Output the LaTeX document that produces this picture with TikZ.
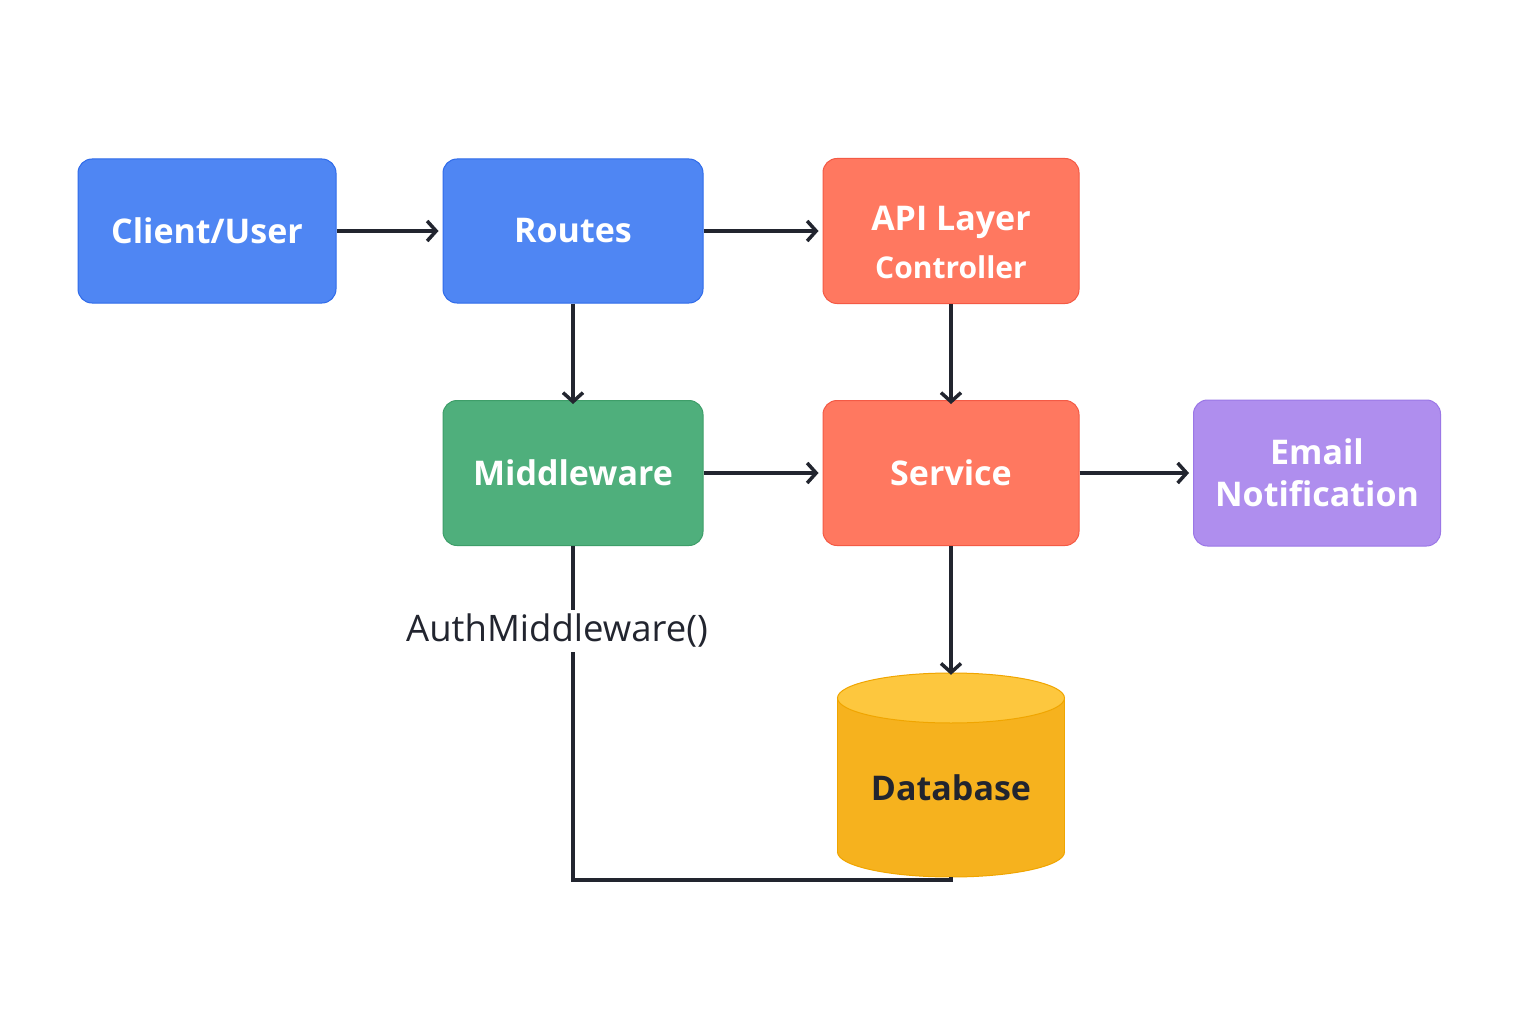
\documentclass[tikz,border=0pt]{standalone}
\usepackage{fontspec}
\setmainfont{Open Sans}
\usetikzlibrary{arrows.meta}
\definecolor{bluef}{HTML}{4F86F3}
\definecolor{blued}{HTML}{2F6BEA}
\definecolor{redf}{HTML}{FF7860}
\definecolor{redd}{HTML}{F45A45}
\definecolor{greenf}{HTML}{4FAF7C}
\definecolor{greend}{HTML}{3E9E69}
\definecolor{purpf}{HTML}{AF8EEE}
\definecolor{purpd}{HTML}{9B77E6}
\definecolor{dbf}{HTML}{F6B21E}
\definecolor{dbtop}{HTML}{FDC73E}
\definecolor{dbd}{HTML}{F0A500}
\definecolor{ink}{HTML}{22252F}
\tikzset{
  box/.style={rounded corners=14pt, line width=1pt, text=white, align=center,
    font=\bfseries\fontsize{34}{42}\selectfont, inner sep=0pt},
  bluebox/.style={box, fill=bluef, draw=blued, minimum width=258pt, minimum height=144pt},
  redbox/.style={box, fill=redf, draw=redd, minimum width=256pt, minimum height=145pt},
  greenbox/.style={box, fill=greenf, draw=greend, minimum width=260pt, minimum height=145pt},
  purpbox/.style={box, fill=purpf, draw=purpd, minimum width=247pt, minimum height=146pt},
  boxtext/.style={text=white, align=center, font=\bfseries\fontsize{34}{42}\selectfont, inner sep=0pt},
  conn/.style={draw=ink, line width=3.5pt, -{Straight Barb[length=9pt,width=20pt,line width=3.5pt]}},
  plain/.style={draw=ink, line width=3.5pt}
}
\begin{document}
\begin{tikzpicture}[x=1pt,y=-1pt]
\useasboundingbox[fill=white] (0,0) rectangle (1536,1024);
\node[bluebox] (client) at (207,231) {Client/User};
\node[bluebox, minimum width=260pt] (routes) at (573,231) {Routes};
\node[redbox] (api) at (951,231) {};
\node[boxtext] (apitext) at (951,242) {API Layer\\[6pt]{\fontsize{30}{36}\selectfont Controller}};
\node[greenbox] (mid) at (573,473) {Middleware};
\node[redbox] (svc) at (951,473) {Service};
\node[purpbox] (email) at (1317,473) {Email\\[0pt]Notification};
% database cylinder
\node[minimum width=227pt, minimum height=204pt, inner sep=0pt] (db) at (951,775) {};
\fill[dbf, draw=dbd, line width=1pt] (951,852) ellipse [x radius=113.5, y radius=25];
\fill[dbf] (837.5,698) rectangle (1064.5,852);
\draw[dbd, line width=1pt] (837.5,698) -- (837.5,852) (1064.5,698) -- (1064.5,852);
\fill[dbtop, draw=dbd, line width=1pt] (951,698) ellipse [x radius=113.5, y radius=25];
\node[font=\bfseries\fontsize{34}{42}\selectfont, text=ink] (dblabel) at (951,788) {Database};
% connectors
\draw[conn] (client.east) -- ([xshift=-4pt]routes.west);
\draw[conn] (routes.east) -- ([xshift=-4pt]api.west);
\draw[conn] (routes.south) -- ([yshift=-4pt]mid.north);
\draw[conn] (api.south) -- ([yshift=-4pt]svc.north);
\draw[conn] (mid.east) -- ([xshift=-4pt]svc.west);
\draw[conn] (svc.east) -- ([xshift=-4pt]email.west);
\draw[conn] (svc.south) -- ([yshift=-2pt]db.north);
\coordinate (corner) at (573,880);
\draw[plain] (mid.south) -- (corner) -- (db.south |- corner) -- (db.south);
\node[fill=white, inner sep=4pt, font=\fontsize{36.5}{44}\selectfont, text=ink] (auth) at (557,631) {AuthMiddleware()};
\end{tikzpicture}
\end{document}
